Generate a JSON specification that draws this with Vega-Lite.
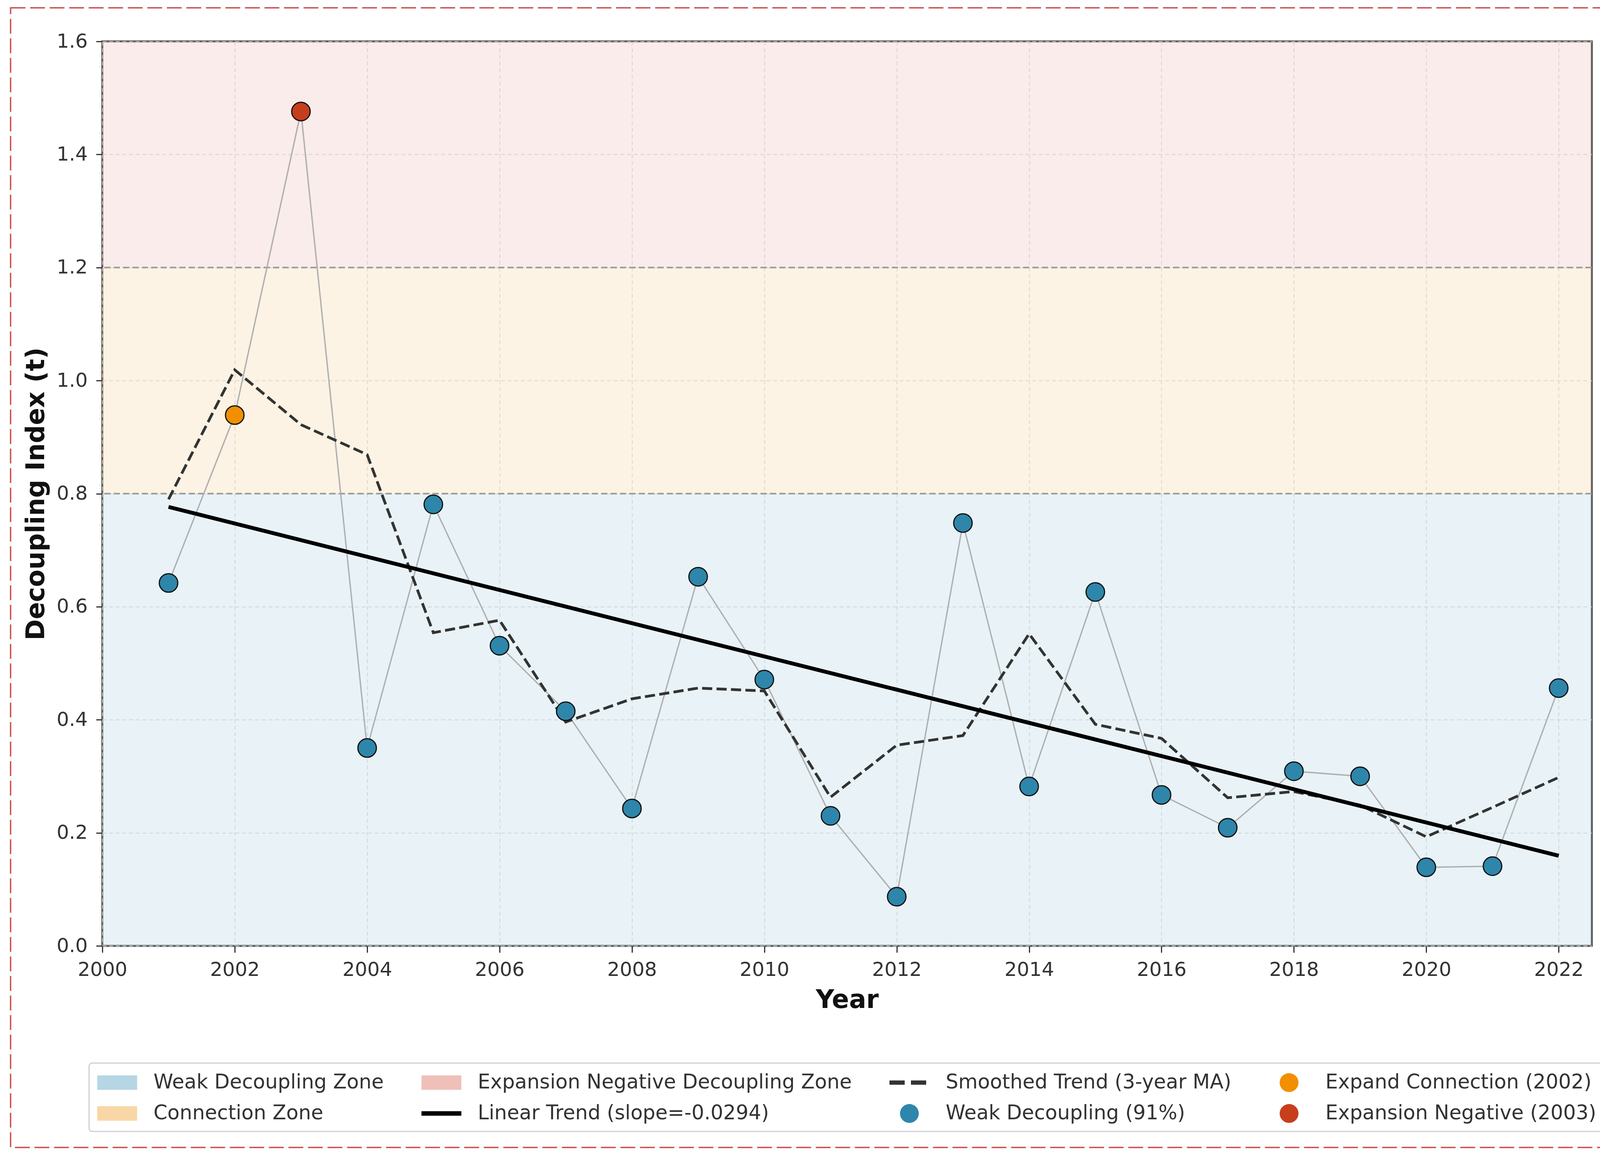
{
  "$schema": "https://vega.github.io/schema/vega-lite/v6.json",
  "width": 3813,
  "height": 2315,
  "autosize": {"type": "none"},
  "padding": {"left": 262, "top": 106, "right": 311, "bottom": 543},
  "background": "white",
  "config": {
    "font": "DejaVu Sans",
    "view": {"stroke": "#4a4a4a", "strokeWidth": 5},
    "axis": {
      "domain": false,
      "grid": true,
      "gridColor": "#d6d6d6",
      "gridWidth": 2,
      "gridDash": [10, 7],
      "ticks": true,
      "tickColor": "#333333",
      "tickWidth": 3,
      "labelFlush": false,
      "labelOverlap": false,
      "labelFont": "DejaVu Sans",
      "labelFontSize": 50,
      "labelColor": "#333333",
      "titleFont": "DejaVu Sans",
      "titleFontSize": 65,
      "titleFontWeight": "bold",
      "titleColor": "#111111"
    },
    "axisX": {"tickSize": 17, "labelPadding": 19, "titlePadding": 21},
    "axisY": {"tickSize": 16, "labelPadding": 22, "titlePadding": 18},
    "legend": {
      "orient": "none",
      "legendX": -34,
      "legendY": 2615,
      "columns": 4,
      "columnPadding": 96,
      "rowPadding": 25,
      "symbolSize": 3364,
      "symbolStrokeWidth": 0,
      "labelFont": "DejaVu Sans",
      "labelFontSize": 51,
      "labelColor": "#333333",
      "labelOffset": 86,
      "labelLimit": 3000,
      "padding": 21,
      "strokeColor": "#cfcfcf",
      "strokeWidth": 3,
      "cornerRadius": 8,
      "fillColor": "white"
    }
  },
  "datasets": {
    "main": [
      {"year": 2001, "value": 0.642, "ma": 0.790, "category": "Weak Decoupling (91%)"},
      {"year": 2002, "value": 0.939, "ma": 1.019, "category": "Expand Connection (2002)"},
      {"year": 2003, "value": 1.476, "ma": 0.922, "category": "Expansion Negative (2003)"},
      {"year": 2004, "value": 0.350, "ma": 0.869, "category": "Weak Decoupling (91%)"},
      {"year": 2005, "value": 0.781, "ma": 0.554, "category": "Weak Decoupling (91%)"},
      {"year": 2006, "value": 0.531, "ma": 0.576, "category": "Weak Decoupling (91%)"},
      {"year": 2007, "value": 0.415, "ma": 0.396, "category": "Weak Decoupling (91%)"},
      {"year": 2008, "value": 0.243, "ma": 0.437, "category": "Weak Decoupling (91%)"},
      {"year": 2009, "value": 0.653, "ma": 0.456, "category": "Weak Decoupling (91%)"},
      {"year": 2010, "value": 0.471, "ma": 0.451, "category": "Weak Decoupling (91%)"},
      {"year": 2011, "value": 0.230, "ma": 0.263, "category": "Weak Decoupling (91%)"},
      {"year": 2012, "value": 0.087, "ma": 0.355, "category": "Weak Decoupling (91%)"},
      {"year": 2013, "value": 0.748, "ma": 0.372, "category": "Weak Decoupling (91%)"},
      {"year": 2014, "value": 0.282, "ma": 0.552, "category": "Weak Decoupling (91%)"},
      {"year": 2015, "value": 0.626, "ma": 0.392, "category": "Weak Decoupling (91%)"},
      {"year": 2016, "value": 0.267, "ma": 0.367, "category": "Weak Decoupling (91%)"},
      {"year": 2017, "value": 0.209, "ma": 0.262, "category": "Weak Decoupling (91%)"},
      {"year": 2018, "value": 0.309, "ma": 0.273, "category": "Weak Decoupling (91%)"},
      {"year": 2019, "value": 0.300, "ma": 0.249, "category": "Weak Decoupling (91%)"},
      {"year": 2020, "value": 0.139, "ma": 0.193, "category": "Weak Decoupling (91%)"},
      {"year": 2021, "value": 0.141, "ma": 0.245, "category": "Weak Decoupling (91%)"},
      {"year": 2022, "value": 0.456, "ma": 0.298, "category": "Weak Decoupling (91%)"}
    ],
    "zones": [
      {"zone": "Weak Decoupling Zone", "lo": 0, "hi": 0.8},
      {"zone": "Connection Zone", "lo": 0.8, "hi": 1.2},
      {"zone": "Expansion Negative Decoupling Zone", "lo": 1.2, "hi": 1.6}
    ],
    "thresholds": [{"t": 0.8}, {"t": 1.2}],
    "legendItems": [
      {"label": "Weak Decoupling Zone"},
      {"label": "Connection Zone"},
      {"label": "Expansion Negative Decoupling Zone"},
      {"label": "Linear Trend (slope=-0.0294)"},
      {"label": "Smoothed Trend (3-year MA)"},
      {"label": "Weak Decoupling (91%)"},
      {"label": "Expand Connection (2002)"},
      {"label": "Expansion Negative (2003)"}
    ]
  },
  "layer": [
    {
      "data": {"name": "zones"},
      "mark": {"type": "rect", "opacity": 0.3},
      "encoding": {
        "y": {
          "field": "lo", "type": "quantitative",
          "scale": {"domain": [0, 1.6], "nice": false, "zero": false},
          "axis": {"title": "Decoupling Index (t)", "values": [0, 0.2, 0.4, 0.6, 0.8, 1.0, 1.2, 1.4, 1.6], "format": ".1f"}
        },
        "y2": {"field": "hi"},
        "fill": {
          "field": "zone", "type": "nominal", "legend": null,
          "scale": {
            "domain": ["Weak Decoupling Zone", "Connection Zone", "Expansion Negative Decoupling Zone", "Weak Decoupling (91%)", "Expand Connection (2002)", "Expansion Negative (2003)"],
            "range": ["#b5d6e3", "#f9d6a5", "#efc0b8", "#2E86AB", "#F18F01", "#C73E1D"]
          }
        }
      }
    },
    {
      "data": {"name": "thresholds"},
      "mark": {"type": "rule", "color": "#9a9a9a", "strokeWidth": 4, "strokeDash": [16, 8]},
      "encoding": {
        "y": {"field": "t", "type": "quantitative", "title": "Decoupling Index (t)", "scale": {"domain": [0, 1.6], "nice": false, "zero": false}}
      }
    },
    {
      "data": {"name": "main"},
      "mark": {"type": "line", "color": "#b0b0b0", "strokeWidth": 3.5},
      "encoding": {
        "x": {
          "field": "year", "type": "quantitative",
          "scale": {"domain": [2000, 2022.5], "nice": false, "zero": false},
          "axis": {"title": "Year", "values": [2000, 2002, 2004, 2006, 2008, 2010, 2012, 2014, 2016, 2018, 2020, 2022], "format": "d"}
        },
        "y": {"field": "value", "type": "quantitative", "title": "Decoupling Index (t)", "scale": {"domain": [0, 1.6], "nice": false, "zero": false}}
      }
    },
    {
      "data": {"name": "main"},
      "mark": {"type": "line", "color": "#333333", "strokeWidth": 7, "strokeDash": [26, 11]},
      "encoding": {
        "x": {"field": "year", "type": "quantitative", "title": "Year", "scale": {"domain": [2000, 2022.5], "nice": false, "zero": false}},
        "y": {"field": "ma", "type": "quantitative", "title": "Decoupling Index (t)", "scale": {"domain": [0, 1.6], "nice": false, "zero": false}}
      }
    },
    {
      "data": {"name": "main"},
      "transform": [{"regression": "value", "on": "year"}],
      "mark": {"type": "line", "color": "#000000", "strokeWidth": 10},
      "encoding": {
        "x": {"field": "year", "type": "quantitative", "title": "Year", "scale": {"domain": [2000, 2022.5], "nice": false, "zero": false}},
        "y": {"field": "value", "type": "quantitative", "title": "Decoupling Index (t)", "scale": {"domain": [0, 1.6], "nice": false, "zero": false}}
      }
    },
    {
      "data": {"name": "main"},
      "mark": {"type": "point", "filled": true, "opacity": 1, "size": 2250, "stroke": "#111111", "strokeWidth": 3},
      "encoding": {
        "x": {"field": "year", "type": "quantitative", "title": "Year", "scale": {"domain": [2000, 2022.5], "nice": false, "zero": false}},
        "y": {"field": "value", "type": "quantitative", "title": "Decoupling Index (t)", "scale": {"domain": [0, 1.6], "nice": false, "zero": false}},
        "fill": {
          "field": "category", "type": "nominal", "legend": null,
          "scale": {
            "domain": ["Weak Decoupling Zone", "Connection Zone", "Expansion Negative Decoupling Zone", "Weak Decoupling (91%)", "Expand Connection (2002)", "Expansion Negative (2003)"],
            "range": ["#b5d6e3", "#f9d6a5", "#efc0b8", "#2E86AB", "#F18F01", "#C73E1D"]
          }
        }
      }
    },
    {
      "data": {"name": "legendItems"},
      "mark": {"type": "point", "filled": true, "opacity": 0},
      "encoding": {
        "color": {
          "field": "label", "type": "nominal",
          "scale": {
            "domain": ["Weak Decoupling Zone", "Connection Zone", "Expansion Negative Decoupling Zone", "Linear Trend (slope=-0.0294)", "Smoothed Trend (3-year MA)", "Weak Decoupling (91%)", "Expand Connection (2002)", "Expansion Negative (2003)"],
            "range": ["#b5d6e3", "#f9d6a5", "#efc0b8", "#000000", "#333333", "#2E86AB", "#F18F01", "#C73E1D"]
          },
          "legend": {"title": null, "encode": {"symbols": {"update": {"opacity": {"value": 1}}}}}
        },
        "shape": {
          "field": "label", "type": "nominal",
          "scale": {
            "domain": ["Weak Decoupling Zone", "Connection Zone", "Expansion Negative Decoupling Zone", "Linear Trend (slope=-0.0294)", "Smoothed Trend (3-year MA)", "Weak Decoupling (91%)", "Expand Connection (2002)", "Expansion Negative (2003)"],
            "range": [
              "M-1,-0.64H2.52V0.64H-1Z",
              "M-1,-0.64H2.52V0.64H-1Z",
              "M-1,-0.64H2.52V0.64H-1Z",
              "M-1,-0.2H2.52V0.2H-1Z",
              "M-1,-0.19H0.345V0.19H-1ZM0.897,-0.19H2.242V0.19H0.897Z",
              "M-0.071,0A0.83,0.83,0,1,1,1.589,0A0.83,0.83,0,1,1,-0.071,0Z",
              "M-0.071,0A0.83,0.83,0,1,1,1.589,0A0.83,0.83,0,1,1,-0.071,0Z",
              "M-0.071,0A0.83,0.83,0,1,1,1.589,0A0.83,0.83,0,1,1,-0.071,0Z"
            ]
          },
          "legend": {"title": null}
        }
      }
    },
    {
      "data": {"values": [{}]},
      "mark": {"type": "rect", "filled": false, "stroke": "#c9504d", "strokeWidth": 3.5, "strokeDash": [38, 12], "clip": false},
      "encoding": {
        "x": {"datum": 1998.614, "type": "quantitative", "scale": {"domain": [2000, 2022.5], "nice": false, "zero": false}},
        "x2": {"datum": 2022.903},
        "y": {"datum": 1.6594, "type": "quantitative", "scale": {"domain": [0, 1.6], "nice": false, "zero": false}},
        "y2": {"datum": -0.3566}
      }
    }
  ]
}
